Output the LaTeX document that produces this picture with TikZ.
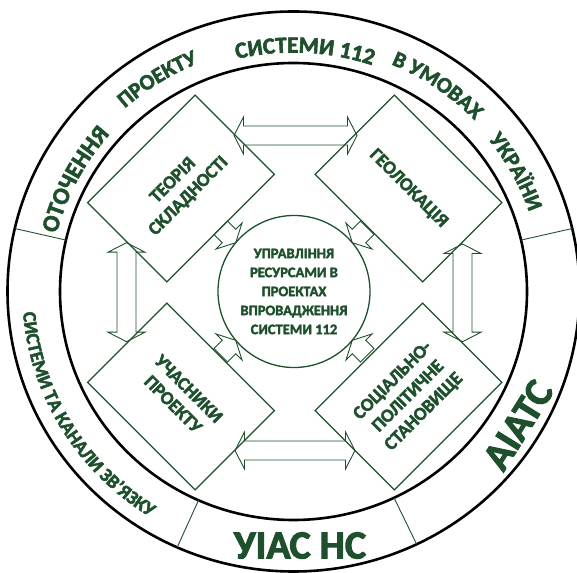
\documentclass[tikz,border=0pt]{standalone}
\usepackage{fontspec}
\setmainfont{Carlito}[BoldFeatures={FakeBold=2.5}]
\usetikzlibrary{calc,decorations.text}
\definecolor{dg}{RGB}{31,80,45}
\newcommand{\fA}{\fontsize{24}{24}\selectfont\bfseries}
\newcommand{\fB}{\fontsize{22}{22}\selectfont\bfseries}
\newcommand{\fBB}{\fontsize{23}{23}\selectfont\bfseries}
\newcommand{\fC}{\fontsize{19}{19}\selectfont\bfseries}
% double-headed block arrow between two named coordinates
\newcommand{\dblarrow}[2]{%
  \coordinate (#1h) at ($(#1)!9.5pt!(#2)$);
  \coordinate (#2h) at ($(#2)!9.5pt!(#1)$);
  \draw[blk] (#1) -- ($(#1h)!18.5pt!90:(#2)$) -- ($(#1h)!9.5pt!90:(#2)$)
    -- ($(#2h)!9.5pt!-90:(#1)$) -- ($(#2h)!18.5pt!-90:(#1)$) -- (#2)
    -- ($(#2h)!18.5pt!90:(#1)$) -- ($(#2h)!9.5pt!90:(#1)$)
    -- ($(#1h)!9.5pt!-90:(#2)$) -- ($(#1h)!18.5pt!-90:(#2)$) -- cycle;}
% single-headed block arrow from tail to tip
\newcommand{\sglarrow}[2]{%
  \coordinate (#2h) at ($(#2)!9.5pt!(#1)$);
  \draw[blk] ($(#1)!9.5pt!90:(#2)$) -- ($(#2h)!9.5pt!-90:(#1)$)
    -- ($(#2h)!18.5pt!-90:(#1)$) -- (#2) -- ($(#2h)!18.5pt!90:(#1)$)
    -- ($(#2h)!9.5pt!90:(#1)$) -- ($(#1)!9.5pt!-90:(#2)$) -- cycle;}
% arc texts: centre angle, half span, rx, ry, font, text
\newcommand{\arcCW}[6]{%
  \path[decorate,decoration={text along path,text align=center,text color=dg,text={|#5|#6}}]
    ($(C)+({#3*cos(#1+#2)},{#4*sin(#1+#2)})$) arc[start angle={#1+#2}, end angle={#1-#2}, x radius=#3, y radius=#4];}
\newcommand{\arcCCW}[6]{%
  \path[decorate,decoration={text along path,text align=center,text color=dg,text={|#5|#6}}]
    ($(C)+({#3*cos(#1-#2)},{#4*sin(#1-#2)})$) arc[start angle={#1-#2}, end angle={#1+#2}, x radius=#3, y radius=#4];}
\begin{document}
\begin{tikzpicture}[x=1pt,y=1pt,
  ring/.style={line width=2.6pt, draw=black},
  divider/.style={line width=0.9pt, draw=dg},
  box/.style={draw=dg, line width=1.3pt, minimum width=152pt, minimum height=112pt, inner sep=0pt, align=center, text=dg, font=\fontsize{18.5}{22}\selectfont\bfseries},
  hub/.style={circle, draw=dg, line width=1.3pt, minimum size=152pt, inner sep=0pt, align=center, text=dg, font=\fontsize{14.5}{19}\selectfont\bfseries},
  blk/.style={draw=dg, line width=0.9pt, line join=miter},
  big/.style={text=dg, font=\fontsize{40}{40}\selectfont\bfseries, inner sep=0pt}]
\useasboundingbox (0,0) rectangle (577,572);
\coordinate (C) at (293.5,280.5);
% rings
\draw[ring] (C) ellipse[x radius=286, y radius=280];
\draw[ring] (C) ellipse[x radius=233.5, y radius=228.5];
\foreach \a in {167,13,246,295.5}
  \draw[divider] ($(C)+({233.5*cos(\a)},{228.5*sin(\a)})$) -- ($(C)+({286*cos(\a)},{280*sin(\a)})$);
% ring texts
\arcCW{152.5}{30}{244}{238.8}{\fA}{ОТОЧЕННЯ}
\arcCW{122.2}{25}{251.9}{246.5}{\fB}{ПРОЕКТУ}
\arcCW{87.3}{30}{244.5}{239}{\fBB}{СИСТЕМИ 112}
\arcCW{55.5}{25}{251.9}{246.5}{\fB}{В УМОВАХ}
\arcCW{28.7}{25}{249.25}{243.95}{\fB}{УКРАЇНИ}
\arcCCW{211.2}{40}{271.3}{265.6}{\fC}{СИСТЕМИ ТА КАНАЛИ ЗВ’ЯЗКУ}
\node[big] (uias) at (300,26.5) {УІАС НС};
\node[big, rotate=58] (aiats) at (518,147) {АІАТС};
% inner nodes
\node[box, rotate=45] (tl) at (181,383.5) {ТЕОРІЯ\\СКЛАДНОСТІ};
\node[box, rotate=-45] (tr) at (408.5,383.5) {ГЕОЛОКАЦІЯ};
\node[box, rotate=-45] (bl) at (181,175.5) {УЧАСНИКИ\\ПРОЕКТУ};
\node[box, rotate=45] (br) at (408.5,175.5) {СОЦІАЛЬНО-\\ПОЛІТИЧНЕ\\СТАНОВИЩЕ};
\node[hub] (hub) at (294,280.5) {УПРАВЛІННЯ\\РЕСУРСАМИ В\\ПРОЕКТАХ\\ВПРОВАДЖЕННЯ\\СИСТЕМИ 112};
% arrows between nodes
\coordinate (ta1) at (234,436.5); \coordinate (ta2) at (357,436.5);
\coordinate (ba1) at (235,121.5); \coordinate (ba2) at (355,121.5);
\coordinate (la1) at (126.5,329.3); \coordinate (la2) at (126.5,230.3);
\coordinate (ra1) at (462.5,328); \coordinate (ra2) at (462.5,230.3);
\dblarrow{ta1}{ta2}
\dblarrow{ba1}{ba2}
\dblarrow{la1}{la2}
\dblarrow{ra1}{ra2}
% arrows to hub
\coordinate (s1) at (220.75,344.25); \coordinate (e1) at (235.7,329.3);
\coordinate (s2) at (367.25,344.25); \coordinate (e2) at (352.3,329.3);
\coordinate (s3) at (220.75,216.75); \coordinate (e3) at (235.7,231.7);
\coordinate (s4) at (367.25,216.75); \coordinate (e4) at (352.3,231.7);
\sglarrow{s1}{e1}
\sglarrow{s2}{e2}
\sglarrow{s3}{e3}
\sglarrow{s4}{e4}
\end{tikzpicture}
\end{document}
